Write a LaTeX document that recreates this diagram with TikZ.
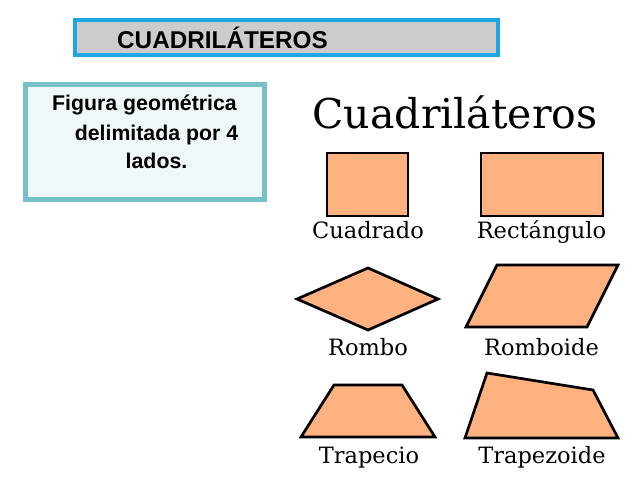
\documentclass[tikz,border=0pt]{standalone}
\usepackage{fontspec}
\setmainfont{DejaVu Serif}
\setsansfont{Liberation Sans}
\usepackage{tikz}

\definecolor{barra}{RGB}{28,166,227}
\definecolor{gris}{RGB}{204,204,204}
\definecolor{marco}{RGB}{120,192,200}
\definecolor{fondo}{RGB}{240,247,250}
\definecolor{naranja}{RGB}{255,178,128}

\tikzset{
    figura/.style={draw=black, fill=naranja, line width=2.7pt, line join=miter},
    nombre/.style={anchor=base, inner sep=0pt, font=\fontsize{22.5}{26}\selectfont},
    texto/.style={anchor=base, inner sep=0pt, font=\sffamily\bfseries\fontsize{21.3}{24}\selectfont}
}

\begin{document}
\begin{tikzpicture}[x=1pt, y=-1pt]
    \useasboundingbox (0,0) rectangle (638,479);
    \fill[white] (0,0) rectangle (638,479);

    % barra del titulo
    \draw[barra, fill=gris, line width=4pt] (75,20) rectangle (498,55);
    \node[anchor=base west, inner sep=0pt, font=\sffamily\bfseries\fontsize{24.3}{27}\selectfont] (titulo) at (117,48) {CUADRILÁTEROS};

    % recuadro de la definicion
    \draw[marco, fill=fondo, line width=5pt] (25.5,84.5) rectangle (264.5,199.5);
    \node[texto] (linea1) at (144.5,110) {Figura geométrica};
    \node[texto] (linea2) at (156.5,140) {delimitada por 4};
    \node[texto] (linea3) at (156.5,168) {lados.};

    \node[anchor=base, inner sep=0pt, font=\fontsize{41}{44}\selectfont] (cabecera) at (455,128) {Cuadriláteros};

    % figuras
    \draw[figura] (327,153) rectangle (408,216);
    \draw[figura] (481,153) rectangle (603,216);
    \draw[figura] (297,299) -- (368,268) -- (438,299) -- (368,330) -- cycle;
    \draw[figura] (466,327) -- (497,265) -- (618,265) -- (587,327) -- cycle;
    \draw[figura] (301,437) -- (334,385) -- (402,385) -- (435,437) -- cycle;
    \draw[figura] (465,438) -- (487,373) -- (593,390) -- (618,438) -- cycle;

    % nombres
    \node[nombre] (cuadrado) at (368,238) {Cuadrado};
    \node[nombre] (rectangulo) at (541.5,238) {Rectángulo};
    \node[nombre] (rombo) at (368,355) {Rombo};
    \node[nombre] (romboide) at (541.5,355) {Romboide};
    \node[nombre] (trapecio) at (369,463) {Trapecio};
    \node[nombre] (trapezoide) at (542,463) {Trapezoide};
\end{tikzpicture}
\end{document}
